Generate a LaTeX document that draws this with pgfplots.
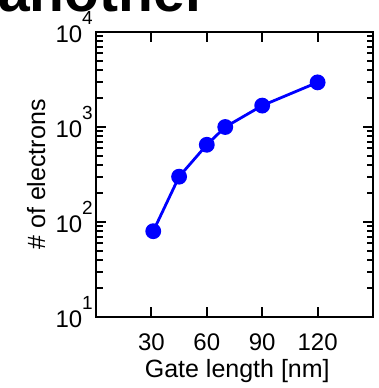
\documentclass[border=0pt]{standalone}
\usepackage{fontspec}
\setmainfont{Liberation Sans}
\usepackage{pgfplots}
\pgfplotsset{compat=1.18}
\newcommand{\expo}[1]{\raisebox{18pt}{\fontsize{19}{19}\selectfont #1}}
\begin{document}
\begin{tikzpicture}
\node[anchor=base west, inner sep=0pt, font=\fontsize{57}{60}\selectfont\bfseries] at (-98pt,305pt) {another};
\begin{axis}[
  at={(0pt,0pt)}, anchor=south west,
  scale only axis, width=277pt, height=285pt,
  xmin=0, xmax=150, ymode=log, ymin=10, ymax=10000,
  xtick={30,60,90,120}, xticklabels={30,60,90,120},
  ytick={10,100,1000,10000},
  minor ytick={20,30,40,50,60,70,80,90,200,300,400,500,600,700,800,900,2000,3000,4000,5000,6000,7000,8000,9000},
  yticklabels={10\expo{1},10\expo{2},10\expo{3},10\expo{4}},
  tick align=inside, xtick pos=both, ytick pos=both,
  major tick length=10pt, minor tick length=6.5pt,
  axis line style={line width=2.8pt},
  major tick style={black, line width=2.2pt},
  minor tick style={black, line width=2pt},
  tick label style={font=\fontsize{24}{28}\selectfont},
  xticklabel style={anchor=base, inner sep=0pt, yshift=-33pt},
  yticklabel style={anchor=base east, inner sep=0pt, xshift=-3pt, yshift=-10.5pt},
  xlabel={Gate length [nm]}, ylabel={\# of electrons},
  label style={font=\fontsize{25}{28}\selectfont},
  xlabel style={at={(axis description cs:0.51,-0.214)}, anchor=base, inner sep=0pt},
  ylabel style={at={(axis description cs:-0.184,0.5)}, anchor=base, rotate=0, inner sep=0pt},
]
\addplot[blue, line width=2.8pt, mark=*, mark size=6.5pt, mark options={fill=blue, draw=blue}]
  coordinates {(31,80) (45,300) (60,650) (70,1000) (90,1680) (120,2950)};
\end{axis}
\pgfresetboundingbox
\useasboundingbox (-96pt,-71pt) rectangle (282pt,317pt);
\end{tikzpicture}
\end{document}
